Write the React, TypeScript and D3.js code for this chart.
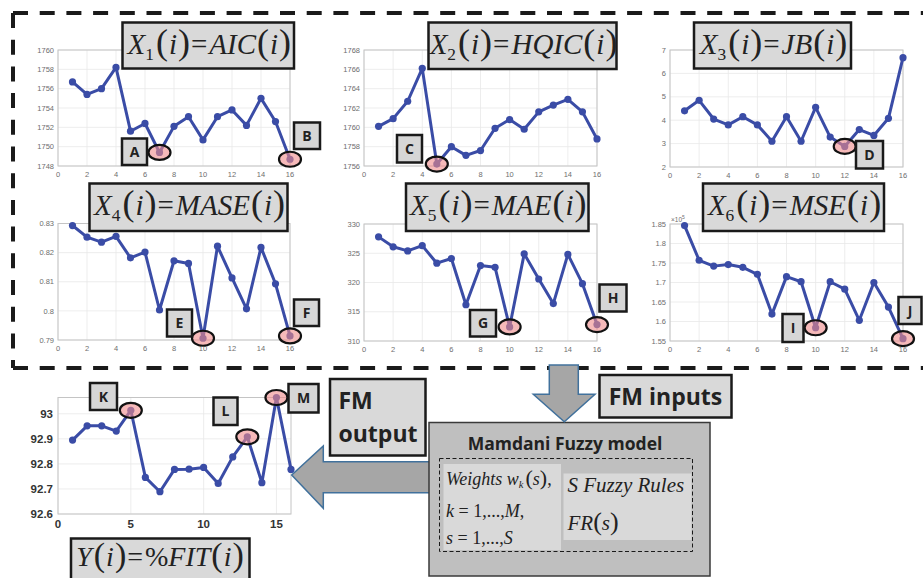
import React from 'react';
import * as d3 from 'd3';

const xIndex = [1, 2, 3, 4, 5, 6, 7, 8, 9, 10, 11, 12, 13, 14, 15, 16];
const aicValues = [1756.7, 1755.4, 1756.0, 1758.2, 1751.6, 1752.4, 1749.4, 1752.1, 1753.1, 1750.7, 1753.1, 1753.8, 1752.2, 1755.0, 1752.6, 1748.7];
const hqicValues = [1760.1, 1760.9, 1762.7, 1766.1, 1756.2, 1758.0, 1757.1, 1757.6, 1759.9, 1760.8, 1759.8, 1761.6, 1762.3, 1762.9, 1761.6, 1758.8];
const jbValues = [4.4, 4.85, 4.05, 3.8, 4.15, 3.8, 3.1, 4.15, 3.1, 4.55, 3.28, 2.88, 3.6, 3.35, 4.08, 6.67];
const maseValues = [0.8293, 0.8253, 0.8236, 0.8256, 0.8182, 0.8202, 0.8003, 0.8172, 0.8163, 0.7906, 0.8222, 0.8113, 0.8007, 0.8218, 0.8093, 0.7914];
const maeValues = [327.8, 326.1, 325.4, 326.3, 323.3, 324.1, 316.2, 322.9, 322.6, 312.4, 324.9, 320.6, 316.4, 324.8, 319.8, 312.8];
const mseValues = [184600, 175700, 174200, 174600, 173900, 172100, 161900, 171500, 170200, 158400, 170200, 168300, 160300, 170000, 163700, 155600];
const fitValues = [92.895, 92.952, 92.952, 92.931, 93.014, 92.746, 92.689, 92.778, 92.779, 92.786, 92.722, 92.828, 92.908, 92.725, 93.065, 92.778];

const smallXTicks = [0, 2, 4, 6, 8, 10, 12, 14, 16];
const bigXTicks = [0, 5, 10, 15];
const aicTicks = [1748, 1750, 1752, 1754, 1756, 1758, 1760];
const hqicTicks = [1756, 1758, 1760, 1762, 1764, 1766, 1768];
const jbTicks = [2, 3, 4, 5, 6, 7];
const maseTicks = [0.79, 0.8, 0.81, 0.82, 0.83];
const maeTicks = [310, 315, 320, 325, 330];
const mseTicks = [155000, 160000, 165000, 170000, 175000, 180000, 185000];
const fitTicks = [92.6, 92.7, 92.8, 92.9, 93];

const LINE = '#3a4ca6';
const SERIF = "'Liberation Serif', 'Times New Roman', Times, serif";
const SANS = "'Open Sans', 'Liberation Sans', sans-serif";
const AXF = "'Liberation Sans', Arial, sans-serif";

type PanelProps = {
  left: number; right: number; top: number; bottom: number;
  values: number[]; yDomain: [number, number]; yTicks: number[]; xTicks: number[];
  fmt: (v: number) => string; big?: boolean; exp?: boolean;
  marks: { i: number; label: string; bx: number; by: number; bw: number; bh: number }[];
};

function Panel(p: PanelProps) {
  const x = d3.scaleLinear().domain([0, 16]).range([p.left, p.right]);
  const y = d3.scaleLinear().domain(p.yDomain).range([p.bottom, p.top]);
  const line = d3.line<number>().x((_, i) => x(xIndex[i])).y((d) => y(d));
  const fs = p.big ? 11.5 : 7.5;
  const tc = p.big ? '#333' : '#6e6e6e';
  return (
    <g>
      <rect x={p.left} y={p.top} width={p.right - p.left} height={p.bottom - p.top} fill="#fff" />
      {p.xTicks.map((t) => (
        <line key={'gx' + t} x1={x(t)} x2={x(t)} y1={p.top} y2={p.bottom} stroke="#e8e8e8" strokeWidth={0.8} />
      ))}
      {p.yTicks.map((t) => (
        <line key={'gy' + t} x1={p.left} x2={p.right} y1={y(t)} y2={y(t)} stroke="#e8e8e8" strokeWidth={0.8} />
      ))}
      <rect x={p.left} y={p.top} width={p.right - p.left} height={p.bottom - p.top} fill="none" stroke="#c4c4c4" strokeWidth={1} />
      {p.xTicks.map((t) => (
        <text key={'tx' + t} x={x(t)} y={p.bottom + (p.big ? 14 : 11)} textAnchor="middle" fontSize={fs}
          fontWeight={p.big ? 'bold' : 'normal'} fill={tc} style={{ fontFamily: AXF }}>{t}</text>
      ))}
      {p.yTicks.map((t) => (
        <text key={'ty' + t} x={p.left - (p.big ? 5 : 4)} y={y(t) + fs * 0.35} textAnchor="end" fontSize={fs}
          fontWeight={p.big ? 'bold' : 'normal'} fill={tc} style={{ fontFamily: AXF }}>{p.fmt(t)}</text>
      ))}
      {p.exp && (
        <text x={p.left + 1} y={p.top - 2} fontSize={6.5} fill="#6e6e6e" style={{ fontFamily: AXF }}>
          ×10<tspan dy={-3} fontSize={5}>5</tspan>
        </text>
      )}
      <path d={line(p.values) || ''} fill="none" stroke={LINE} strokeWidth={3} strokeLinejoin="round" />
      {p.values.map((v, i) => (
        <circle key={'c' + i} cx={x(xIndex[i])} cy={y(v)} r={3.6} fill={LINE} />
      ))}
      {p.marks.map((m) => (
        <g key={'m' + m.label}>
          <ellipse cx={x(m.i)} cy={y(p.values[m.i - 1])} rx={11} ry={7.5}
            fill="#f08a8a" fillOpacity={0.6} stroke="#111" strokeWidth={2.2} />
          <rect x={m.bx} y={m.by} width={m.bw} height={m.bh} fill="#d6d6d6" stroke="#1a1a1a" strokeWidth={2.5} />
          <text x={m.bx + m.bw / 2} y={m.by + m.bh / 2 + 5} textAnchor="middle" fontSize={14} fontWeight="bold"
            fill="#222" style={{ fontFamily: SANS }}>{m.label}</text>
        </g>
      ))}
    </g>
  );
}

function Title(props: { x: number; y: number; w: number; h: number; lhs: string; sub?: string; rhs: string; fs?: number }) {
  const fs = props.fs || 29;
  const pf = fs * 1.24;
  const base = props.y + 31;
  return (
    <g>
      <rect x={props.x} y={props.y} width={props.w} height={props.h} fill="#d9d9d9" stroke="#1a1a1a" strokeWidth={2.5} />
      <text x={props.x + props.w / 2 + 1} y={base} textAnchor="middle" style={{ fontFamily: SERIF }} fill="#222">
        <tspan fontStyle="italic" fontSize={fs}>{props.lhs}</tspan>
        {props.sub ? <tspan fontSize={fs * 0.6} dy={6}>{props.sub}</tspan> : null}
        <tspan fontSize={pf} dy={props.sub ? -6 : 0} dx={2}>(</tspan>
        <tspan fontStyle="italic" fontSize={fs} dx={1}>i</tspan>
        <tspan fontSize={pf} dx={1}>)</tspan>
        <tspan fontSize={fs} dx={1}>=</tspan>
        <tspan fontStyle="italic" fontSize={fs} dx={2}>{props.rhs}</tspan>
        <tspan fontSize={pf} dx={1}>(</tspan>
        <tspan fontStyle="italic" fontSize={fs} dx={1}>i</tspan>
        <tspan fontSize={pf} dx={1}>)</tspan>
      </text>
    </g>
  );
}

export default function App() {
  const f0 = (v: number) => String(v);
  const fMse = (v: number) => String(+(v / 100000).toFixed(2));
  return (
    <svg width={923} height={578} style={{ position: 'absolute', left: 0, top: 0, background: '#fff' }}>
      <rect x={0} y={0} width={923} height={578} fill="#fff" />
      <path d="M13,13 L930,13 M13,13 L13,368 M13,368 L930,368" fill="none" stroke="#1a1a1a" strokeWidth={4} strokeDasharray="15,11.7" />

      <Panel left={58} right={290} top={50} bottom={166} values={aicValues} yDomain={[1748, 1760]} yTicks={aicTicks} xTicks={smallXTicks} fmt={f0}
        marks={[{ i: 7, label: 'A', bx: 122, by: 138.5, bw: 25, bh: 26.5 }, { i: 16, label: 'B', bx: 294, by: 122.5, bw: 26, bh: 26.5 }]} />
      <Panel left={364} right={597} top={50} bottom={166} values={hqicValues} yDomain={[1756, 1768]} yTicks={hqicTicks} xTicks={smallXTicks} fmt={f0}
        marks={[{ i: 5, label: 'C', bx: 397, by: 135, bw: 25, bh: 27.5 }]} />
      <Panel left={670} right={903} top={50} bottom={167} values={jbValues} yDomain={[2, 7]} yTicks={jbTicks} xTicks={smallXTicks} fmt={f0}
        marks={[{ i: 12, label: 'D', bx: 856, by: 141, bw: 27, bh: 27.5 }]} />
      <Panel left={58} right={290} top={223.5} bottom={340} values={maseValues} yDomain={[0.79, 0.83]} yTicks={maseTicks} xTicks={smallXTicks} fmt={f0}
        marks={[{ i: 10, label: 'E', bx: 167, by: 309.5, bw: 25, bh: 27 }, { i: 16, label: 'F', bx: 294, by: 299.5, bw: 25, bh: 26.5 }]} />
      <Panel left={364} right={597} top={224} bottom={341} values={maeValues} yDomain={[310, 330]} yTicks={maeTicks} xTicks={smallXTicks} fmt={f0}
        marks={[{ i: 10, label: 'G', bx: 470, by: 310, bw: 26, bh: 26.5 }, { i: 16, label: 'H', bx: 599.5, by: 284.5, bw: 27, bh: 27 }]} />
      <Panel left={670} right={903} top={224} bottom={341} values={mseValues} yDomain={[155000, 185000]} yTicks={mseTicks} xTicks={smallXTicks} fmt={fMse} exp
        marks={[{ i: 10, label: 'I', bx: 782.5, by: 314, bw: 21, bh: 28 }, { i: 16, label: 'J', bx: 898.5, by: 297, bw: 23, bh: 27 }]} />

      <Title x={122.5} y={22.5} w={171.5} h={46} lhs="X" sub="1" rhs="AIC" />
      <Title x={428.5} y={22.5} w={188} h={46.5} lhs="X" sub="2" rhs="HQIC" />
      <Title x={694} y={22.5} w={157} h={46} lhs="X" sub="3" rhs="JB" />
      <Title x={89.5} y={183.5} w={198} h={47.5} lhs="X" sub="4" rhs="MASE" />
      <Title x={406} y={183.5} w={182.5} h={47.5} lhs="X" sub="5" rhs="MAE" />
      <Title x={703} y={183.5} w={181} h={47.5} lhs="X" sub="6" rhs="MSE" />

      <Panel left={58} right={291} top={397.5} bottom={514} values={fitValues} yDomain={[92.6, 93.065]} yTicks={fitTicks} xTicks={bigXTicks} fmt={f0} big
        marks={[{ i: 5, label: 'K', bx: 90, by: 383, bw: 27, bh: 27 }, { i: 13, label: 'L', bx: 213.5, by: 397.5, bw: 24, bh: 27.5 }, { i: 15, label: 'M', bx: 288.5, by: 384, bw: 30, bh: 28.5 }]} />
      <g>
        <rect x={71} y={538.5} width={178.5} height={50} fill="#d9d9d9" stroke="#1a1a1a" strokeWidth={2.5} />
        <text x={160} y={566} textAnchor="middle" style={{ fontFamily: SERIF }} fill="#222">
          <tspan fontStyle="italic" fontSize={28}>Y</tspan>
          <tspan fontSize={34} dx={2}>(</tspan>
          <tspan fontStyle="italic" fontSize={28} dx={1}>i</tspan>
          <tspan fontSize={34} dx={1}>)</tspan>
          <tspan fontSize={28} dx={1}>=</tspan>
          <tspan fontSize={28} dx={2}>%</tspan>
          <tspan fontStyle="italic" fontSize={28}>FIT</tspan>
          <tspan fontSize={34} dx={1}>(</tspan>
          <tspan fontStyle="italic" fontSize={28} dx={1}>i</tspan>
          <tspan fontSize={34} dx={1}>)</tspan>
        </text>
      </g>

      <polygon points="440,461.7 323.3,461.7 323.3,446 291.7,475 323.3,508.3 323.3,492.7 440,492.7" fill="#a6a6a6" stroke="#41719c" strokeWidth={1.5} />
      <rect x={429} y={422.5} width={281} height={153.5} fill="#bfbfbf" stroke="#3a3a3a" strokeWidth={1.5} />
      <text x={565} y={449.5} textAnchor="middle" style={{ fontFamily: SANS }} fontWeight="bold" fontSize={17.5} fill="#222">Mamdani Fuzzy model</text>
      <rect x={443.5} y={464} width={117.5} height={86} fill="#d9d9d9" />
      <rect x={563.5} y={473.5} width={128} height={66.5} fill="#d9d9d9" />
      <rect x={439.5} y={458.5} width={253} height={93} fill="none" stroke="#1a1a1a" strokeWidth={1} strokeDasharray="4,2.5" />
      <g style={{ fontFamily: SERIF }} fill="#222">
        <text x={446} y={485} fontSize={18}>
          <tspan fontStyle="italic">Weights w</tspan>
          <tspan fontStyle="italic" fontSize={10.5} dy={3}>k</tspan>
          <tspan fontSize={22} dy={-3} dx={2}>(</tspan>
          <tspan fontStyle="italic">s</tspan>
          <tspan fontSize={22}>)</tspan>
          <tspan>,</tspan>
        </text>
        <text x={446} y={516.5} fontSize={18}>
          <tspan fontStyle="italic">k</tspan><tspan> = 1,...,</tspan><tspan fontStyle="italic">M</tspan><tspan>,</tspan>
        </text>
        <text x={446} y={543.5} fontSize={18}>
          <tspan fontStyle="italic">s</tspan><tspan> = 1,...,</tspan><tspan fontStyle="italic">S</tspan>
        </text>
        <text x={567.5} y={492} fontSize={21} fontStyle="italic">S Fuzzy Rules</text>
        <text x={567.5} y={530} fontSize={21}>
          <tspan fontStyle="italic">FR</tspan><tspan fontSize={26}>(</tspan><tspan fontStyle="italic">s</tspan><tspan fontSize={26}>)</tspan>
        </text>
      </g>
      <polygon points="549.3,365 578.3,365 578.3,394.3 595,394.3 564.3,421.7 533.3,394.3 549.3,394.3" fill="#a6a6a6" stroke="#41719c" strokeWidth={1.5} />

      <rect x={599.5} y={375} width={132} height={42.5} fill="#d9d9d9" stroke="#1a1a1a" strokeWidth={2.5} />
      <text x={665.5} y={405} textAnchor="middle" style={{ fontFamily: SANS }} fontWeight="bold" fontSize={23} fill="#222">FM inputs</text>
      <rect x={330} y={379} width={95.5} height={76.5} fill="#d9d9d9" stroke="#1a1a1a" strokeWidth={2.5} />
      <text x={338.5} y={408.5} style={{ fontFamily: SANS }} fontWeight="bold" fontSize={23} fill="#222">FM</text>
      <text x={338.5} y={441.5} style={{ fontFamily: SANS }} fontWeight="bold" fontSize={23} fill="#222">output</text>
    </svg>
  );
}
